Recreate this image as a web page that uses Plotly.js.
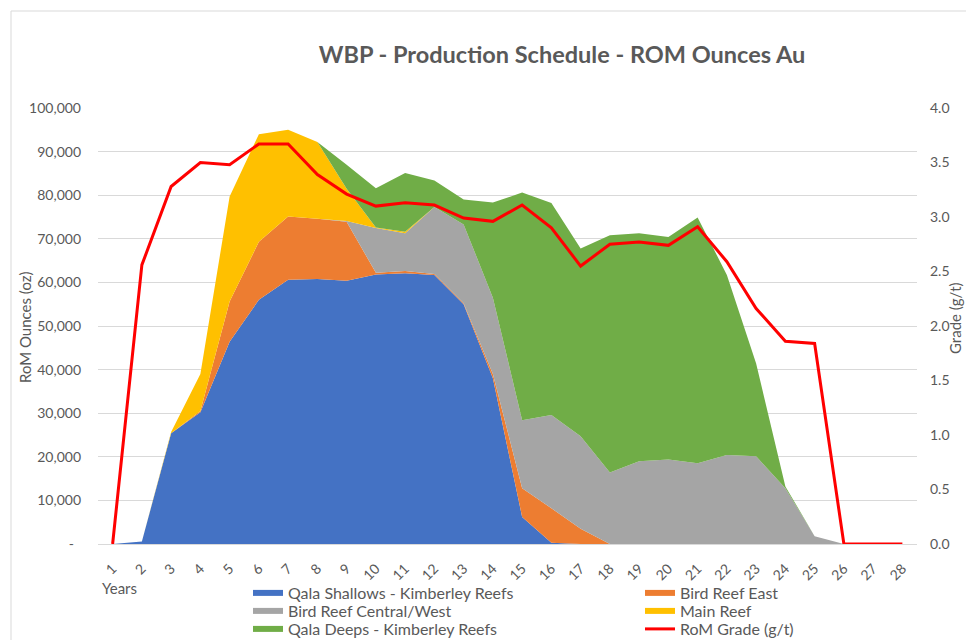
<!DOCTYPE html>
<html>
<head>
<meta charset="utf-8">
<script src="https://cdn.plot.ly/plotly-3.0.1.min.js"></script>
<style>html,body{margin:0;padding:0;background:#fff;}#chart{width:966px;height:640px;}</style>
</head>
<body>
<div id="chart"></div>
<script>
const years = ['1','2','3','4','5','6','7','8','9','10','11','12','13','14','15','16','17','18','19','20','21','22','23','24','25','26','27','28'];
const qalaShallows = [0, 600, 25400, 30200, 46400, 56000, 60600, 60800, 60400, 61800, 62100, 61700, 55000, 38000, 6200, 300, 0, 0, 0, 0, 0, 0, 0, 0, 0, 0, 0, 0];
const birdReefEast = [0, 0, 0, 300, 9200, 13300, 14500, 13800, 13500, 400, 500, 200, 200, 1000, 6600, 7900, 3500, 0, 0, 0, 0, 0, 0, 0, 0, 0, 0, 0];
const birdReefCentralWest = [0, 0, 0, 0, 0, 0, 0, 0, 200, 10300, 8700, 15400, 18100, 17500, 15600, 21400, 21200, 16400, 19000, 19400, 18500, 20400, 20100, 12800, 1800, 0, 0, 0];
const mainReef = [0, 0, 300, 8500, 24100, 24700, 19900, 17600, 7400, 100, 300, 0, 0, 0, 0, 0, 0, 0, 0, 0, 0, 0, 0, 0, 0, 0, 0, 0];
const qalaDeeps = [0, 0, 0, 0, 0, 0, 0, 0, 5500, 9000, 13500, 6100, 5700, 21800, 52200, 48600, 43100, 54400, 52300, 51000, 56400, 41300, 21300, 400, 0, 0, 0, 0];
const romGrade = [0, 2.56, 3.28, 3.50, 3.48, 3.67, 3.67, 3.39, 3.21, 3.10, 3.13, 3.11, 2.99, 2.96, 3.11, 2.90, 2.55, 2.75, 2.77, 2.74, 2.91, 2.59, 2.16, 1.86, 1.84, 0, 0, 0];
const ozTickVals = [0, 10000, 20000, 30000, 40000, 50000, 60000, 70000, 80000, 90000, 100000];
const ozTickText = ['-\u2002', '10,000', '20,000', '30,000', '40,000', '50,000', '60,000', '70,000', '80,000', '90,000', '100,000'];

const FONT = 'Lato, "Open Sans", sans-serif';
const TXT = '#595959';

function area(name, y, color, legend) {
  return {type: 'scatter', x: years, y: y, name: name, stackgroup: 'one', mode: 'none',
          fillcolor: color, legend: legend, hoverinfo: 'x+y+name'};
}

const traces = [
  area('Qala Shallows - Kimberley Reefs', qalaShallows, '#4472C4', 'legend'),
  area('Bird Reef East', birdReefEast, '#ED7D31', 'legend2'),
  area('Bird Reef Central/West', birdReefCentralWest, '#A5A5A5', 'legend3'),
  area('Main Reef', mainReef, '#FFC000', 'legend4'),
  area('Qala Deeps - Kimberley Reefs', qalaDeeps, '#70AD47', 'legend5'),
  {type: 'scatter', x: years, y: romGrade, name: 'RoM Grade (g/t)', yaxis: 'y2', mode: 'lines',
   line: {color: '#FF0000', width: 3}, legend: 'legend6'}
];

const PL = 98, PR = 917, PT = 108, PB = 544;
const PW = PR - PL, PH = PB - PT;
const px = v => (v - PL) / PW;
const py = v => (PB - v) / PH;

function leg(xp, yp) {
  return {x: px(xp), y: py(yp), xanchor: 'left', yanchor: 'middle', orientation: 'v',
          bgcolor: 'rgba(0,0,0,0)', borderwidth: 0, font: {family: FONT, size: 16, color: TXT},
          itemwidth: 30};
}

const layout = {
  width: 966, height: 640,
  margin: {l: PL, r: 966 - PR, t: PT, b: 640 - PB, autoexpand: false},
  paper_bgcolor: '#fff', plot_bgcolor: '#fff',
  font: {family: FONT, color: TXT},
  title: {text: '<b>WBP - Production Schedule - ROM Ounces Au</b>', x: 562 / 966, xanchor: 'center', xref: 'container',
          y: 1 - 55 / 640, yanchor: 'middle', yref: 'container', font: {family: FONT, size: 23.5, color: TXT}},
  showlegend: true,
  legend: leg(248, 593),
  legend2: leg(640, 593),
  legend3: leg(248, 611),
  legend4: leg(640, 611),
  legend5: leg(248, 629),
  legend6: leg(640, 629),
  xaxis: {type: 'category', range: [-0.5, 27.5], tickangle: -45, showgrid: false, zeroline: false,
          showline: true, linecolor: '#d9d9d9', linewidth: 1, ticks: '',
          tickfont: {family: FONT, size: 14, color: TXT}, ticklabelstandoff: 10, fixedrange: true},
  yaxis: {range: [0, 100000], tickvals: ozTickVals, ticktext: ozTickText, showgrid: true, gridcolor: '#d9d9d9',
          gridwidth: 1, zeroline: false, showline: false, ticks: '',
          tickfont: {family: FONT, size: 14, color: TXT}, ticklabelstandoff: 16},
  yaxis2: {range: [0, 4], dtick: 0.5, tick0: 0, tickformat: '.1f', overlaying: 'y', side: 'right',
           showgrid: false, zeroline: false, showline: false, ticks: '',
           tickfont: {family: FONT, size: 14, color: TXT}, ticklabelstandoff: 12},
  annotations: [
    {text: 'RoM Ounces (oz)', xref: 'paper', yref: 'paper', x: px(25), y: py(327), textangle: -90,
     showarrow: false, xanchor: 'center', yanchor: 'middle', font: {family: FONT, size: 15, color: TXT}},
    {text: 'Grade (g/t)', xref: 'paper', yref: 'paper', x: px(955), y: py(318), textangle: -90,
     showarrow: false, xanchor: 'center', yanchor: 'middle', font: {family: FONT, size: 15, color: TXT}},
    {text: 'Years', xref: 'paper', yref: 'paper', x: px(100), y: py(588), showarrow: false,
     xanchor: 'left', yanchor: 'middle', font: {family: FONT, size: 15, color: TXT}}
  ],
  shapes: [
    {type: 'rect', xref: 'paper', yref: 'paper', x0: px(11), x1: px(1100), y0: py(800), y1: py(11),
     line: {color: '#d9d9d9', width: 1}, fillcolor: 'rgba(0,0,0,0)', layer: 'below'}
  ]
};

Plotly.newPlot('chart', traces, layout, {displayModeBar: false, staticPlot: true});
</script>
</body>
</html>
